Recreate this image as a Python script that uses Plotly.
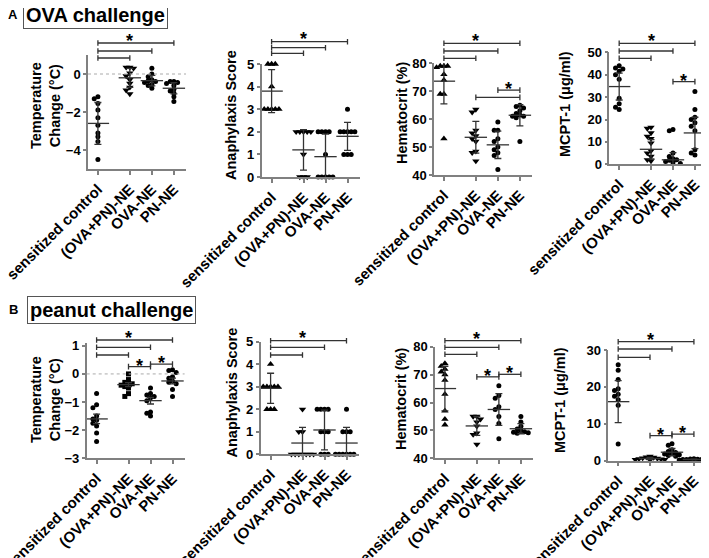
import numpy as np
import plotly.graph_objects as go

W, H = 709, 558
OFF = 8  # page body margin; the figure is drawn starting 8px in
FW, FH = W - OFF, H - OFF
FONT = "Liberation Sans, Arial, sans-serif"

groups = ["sensitized control", "(OVA+PN)-NE", "OVA-NE", "PN-NE"]

# ---------------- OVA challenge ----------------
ova_temp_points = [
    [-1.2, -1.3, -1.55, -1.9, -2.3, -2.7, -3.1, -3.3, -3.55, -4.5],
    [0.35, 0.35, 0.3, 0.05, -0.1, -0.3, -0.5, -0.7, -0.85, -1.05],
    [0.3, 0.0, -0.15, -0.3, -0.35, -0.4, -0.45, -0.55, -0.6, -0.75],
    [-0.4, -0.4, -0.45, -0.5, -0.6, -0.8, -0.9, -1.0, -1.2, -1.45],
]
ova_temp_mean = [-2.6, -0.2, -0.35, -0.75]
ova_temp_sd = [1.1, 0.5, 0.28, 0.3]

ova_score_points = [
    [5, 5, 5, 4, 3, 3, 3, 3, 3],
    [2, 2, 2, 2, 2, 1, 0, 0, 0],
    [2, 2, 2, 2, 1, 0, 0, 0, 0, 0],
    [3, 2, 2, 2, 2, 2, 1, 1, 1],
]
ova_score_mean = [3.8, 1.2, 0.9, 1.8]
ova_score_sd = [0.95, 0.9, 1.0, 0.62]

ova_hct_points = [
    [79, 79, 79, 78.5, 76, 74, 69, 69, 53],
    [63.5, 62.5, 56, 55, 54, 53, 52, 48.5, 48, 45],
    [59, 56, 56, 53, 52, 50, 49, 48, 47, 42],
    [65, 64.5, 64, 63, 62, 61.5, 61, 61, 60.5, 52],
]
ova_hct_mean = [73.6, 53.5, 50.8, 61.4]
ova_hct_sd = [8.1, 5.7, 4.9, 3.8]

ova_mcpt_points = [
    [44, 43, 42.5, 41.5, 40, 38, 29.5, 27, 25.5, 24.5],
    [16.5, 16, 14, 12.5, 11.5, 9.5, 6, 5, 3.5, 2, 1.5],
    [15.5, 15, 5, 3.5, 2.5, 2, 1.8, 1.2, 0.8, 0.4],
    [32.5, 24.5, 21, 20, 18.5, 17, 15, 6.5, 5, 4.2],
]
ova_mcpt_mean = [34.7, 6.7, 2.0, 14.0]
ova_mcpt_sd = [6.0, 4.3, 3.2, 7.0]

# ---------------- peanut challenge ----------------
pn_temp_points = [
    [-0.7, -1.1, -1.2, -1.5, -1.6, -1.65, -1.75, -1.85, -2.1, -2.4],
    [0.0, -0.2, -0.3, -0.35, -0.35, -0.4, -0.45, -0.5, -0.7, -0.8],
    [-0.5, -0.7, -0.75, -0.8, -0.85, -0.95, -1.35, -1.4, -1.5],
    [0.15, 0.12, 0.05, -0.1, -0.15, -0.25, -0.3, -0.35, -0.55, -0.8],
]
pn_temp_mean = [-1.6, -0.38, -0.95, -0.25]
pn_temp_sd = [0.17, 0.07, 0.12, 0.1]

pn_score_points = [
    [4, 3, 3, 3, 3, 3, 3, 2, 2, 2],
    [2, 1, 1, 0, 0, 0, 0, 0, 0, 0],
    [2, 2, 2, 2, 1, 1, 1, 0, 0, 0],
    [2, 1, 1, 1, 0, 0, 0, 0, 0, 0],
]
pn_score_mean = [2.93, 0.5, 1.08, 0.5]
pn_score_sd = [0.67, 0.7, 0.88, 0.7]

pn_hct_points = [
    [74, 73, 72, 71, 70, 68, 63, 57, 54, 52],
    [55, 55, 54, 53, 51.5, 49, 48.5, 45],
    [66, 62.5, 61.5, 58.5, 57.5, 55, 52.5, 47],
    [55, 53, 51.5, 50.5, 50, 49.5, 49.3, 49.2, 49],
]
pn_hct_mean = [65.0, 51.6, 57.5, 50.6]
pn_hct_sd = [8.0, 3.4, 5.7, 1.8]

pn_mcpt_points = [
    [26, 24.5, 22, 19.5, 19, 18, 17.5, 16.5, 15, 4.5],
    [1.2, 1.0, 0.9, 0.7, 0.6, 0.5, 0.4, 0.3, 0.3, 0.2],
    [4.6, 4.2, 3.0, 2.5, 2.2, 2.0, 1.8, 1.6, 1.4, 1.2],
    [0.5, 0.45, 0.4, 0.35, 0.3, 0.3, 0.25, 0.2],
]
pn_mcpt_mean = [16.0, 0.6, 2.3, 0.35]
pn_mcpt_sd = [5.7, 0.3, 1.0, 0.1]

xpos = [0, 1.45, 2.45, 3.45]
XR = [-0.45, 4.0]

TRI = ["triangle-up", "triangle-down", "circle", "circle"]
DOT = ["circle", "triangle-down", "circle", "circle"]

panels = [
    dict(pts=ova_temp_points, mean=ova_temp_mean, sd=ova_temp_sd, sym=DOT,
         xd=(88, 186), yd=(55, 169), yr=[-5, 1], tv=[-4, -2, 0],
         title="Temperature<br>Change (°C)", tpos=(45, 106),
         br=[43, 51, 58], star=37, inner=[], zero=True),
    dict(pts=ova_score_points, mean=ova_score_mean, sd=ova_score_sd, sym=TRI,
         xd=(261.7, 359.6), yd=(64, 177), yr=[0, 5], tv=[0, 1, 2, 3, 4, 5],
         title="Anaphylaxis Score", tpos=(231, 115),
         br=[41.7, 47.7, 53.3], star=35, inner=[], zero=False),
    dict(pts=ova_hct_points, mean=ova_hct_mean, sd=ova_hct_sd, sym=TRI,
         xd=(434, 532), yd=(63.3, 175), yr=[40, 80], tv=[40, 50, 60, 70, 80],
         title="Hematocrit (%)", tpos=(402, 113),
         br=[43.3, 51, 58.3], star=37,
         inner=[(1, 3, 67.8, False), (2, 3, 70.4, True)], zero=False),
    dict(pts=ova_mcpt_points, mean=ova_mcpt_mean, sd=ova_mcpt_sd, sym=DOT,
         xd=(609.3, 707), yd=(52.3, 164.3), yr=[0, 50], tv=[0, 10, 20, 30, 40, 50],
         title="MCPT-1 (μg/ml)", tpos=(565, 104),
         br=[43.3, 51, 58.3], star=37,
         inner=[(2, 3, 36.9, True)], zero=False),
    dict(pts=pn_temp_points, mean=pn_temp_mean, sd=pn_temp_sd,
         sym=["circle", "square", "circle", "circle"],
         xd=(86.7, 184.6), yd=(343, 458.3), yr=[-3, 1.1], tv=[-3, -2, -1, 0, 1],
         title="Temperature<br>Change (°C)", tpos=(45, 400),
         br=[340, 347.3, 355], star=334,
         inner=[(1, 2, 0.26, True), (2, 3, 0.35, True)], zero=True),
    dict(pts=pn_score_points, mean=pn_score_mean, sd=pn_score_sd, sym=TRI,
         xd=(260.7, 358.6), yd=(341.7, 454.3), yr=[0, 5], tv=[0, 1, 2, 3, 4, 5],
         title="Anaphylaxis Score", tpos=(231, 392.5),
         br=[340.7, 347.3, 355], star=334, inner=[], zero=False),
    dict(pts=pn_hct_points, mean=pn_hct_mean, sd=pn_hct_sd, sym=TRI,
         xd=(435, 533), yd=(346.7, 458.3), yr=[40, 80], tv=[40, 50, 60, 70, 80],
         title="Hematocrit (%)", tpos=(401, 399),
         br=[340.7, 347.3, 354.3], star=335,
         inner=[(1, 2, 69.2, True), (2, 3, 70.1, True)], zero=False),
    dict(pts=pn_mcpt_points, mean=pn_mcpt_mean, sd=pn_mcpt_sd, sym=DOT,
         xd=(608.3, 706), yd=(350, 460.7), yr=[0, 30], tv=[0, 10, 20, 30],
         title="MCPT-1 (μg/ml)", tpos=(560, 400),
         br=[341.7, 349, 357.3], star=336,
         inner=[(1, 2, 6.8, True), (2, 3, 7.2, True)], zero=False),
]


def px(p):
    return (p - OFF) / FW


def py(p):
    return 1 - (p - OFF) / FH


def swarm(vals, ppu_x, ppu_y, size=4.6):
    vals = np.asarray(vals, dtype=float)
    order = np.argsort(-vals)
    placed = []
    offs = np.zeros(len(vals))
    for i in order:
        yp = vals[i] * ppu_y
        for c in [0, -1, 1, -2, 2, -3, 3, -4, 4, -5, 5]:
            xp = c * size * 0.8
            if all((xp - a) ** 2 + (yp - b) ** 2 >= (size * 0.8) ** 2 for a, b in placed):
                break
        placed.append((xp, yp))
        offs[i] = xp / ppu_x
    return offs


fig = go.Figure()
shapes, annos = [], []
LC = "#333333"
AX = "#808080"

for k, p in enumerate(panels, start=1):
    sfx = "" if k == 1 else str(k)
    xr, yr = "x" + sfx, "y" + sfx
    ppu_x = (p["xd"][1] - p["xd"][0]) / (XR[1] - XR[0])
    ppu_y = (p["yd"][1] - p["yd"][0]) / (p["yr"][1] - p["yr"][0])

    def v2px(v, p=p, ppu_y=ppu_y):
        return p["yd"][1] - (v - p["yr"][0]) * ppu_y

    for g in range(4):
        vals = p["pts"][g]
        offs = swarm(vals, ppu_x, ppu_y)
        sym = p["sym"][g]
        fig.add_trace(go.Scatter(
            x=[xpos[g] + o for o in offs], y=vals, mode="markers",
            marker=dict(symbol=sym, size=6.5 if "triangle" in sym else 5, color="black"),
            xaxis=xr, yaxis=yr, cliponaxis=False, showlegend=False, hoverinfo="y"))
        fig.add_trace(go.Scatter(
            x=[xpos[g]], y=[p["mean"][g]], mode="markers",
            marker=dict(symbol="line-ew", size=16, line=dict(width=1.3, color=LC)),
            error_y=dict(type="data", array=[p["sd"][g]], color=LC, thickness=1.3, width=3.5),
            xaxis=xr, yaxis=yr, cliponaxis=False, showlegend=False, hoverinfo="y"))

    def bracket(i, j, ypx):
        shapes.append(dict(type="line", xref=xr, yref="paper", x0=xpos[i], x1=xpos[j],
                           y0=py(ypx), y1=py(ypx), line=dict(color=LC, width=1.3)))
        for xx in (xpos[i], xpos[j]):
            shapes.append(dict(type="line", xref=xr, yref="paper", x0=xx, x1=xx,
                               y0=py(ypx - 2.8), y1=py(ypx + 2.8), line=dict(color=LC, width=1.3)))

    def star(x, ypx):
        annos.append(dict(text="*", xref=xr, yref="paper", x=x, y=py(ypx + 4),
                          xanchor="center", yanchor="middle", showarrow=False,
                          font=dict(family=FONT, size=18, color="black", weight="bold")))

    for lvl, j in zip(p["br"], [3, 2, 1]):
        bracket(0, j, lvl)
    star(xpos[1], p["star"])
    for i, j, v, s in p["inner"]:
        ypx = v2px(v)
        bracket(i, j, ypx)
        if s:
            star((xpos[i] + xpos[j]) / 2, ypx - 5)

    if p["zero"]:
        shapes.append(dict(type="line", xref=xr + " domain", yref=yr, x0=0, x1=1, y0=0, y1=0,
                           line=dict(color="#aaaaaa", width=1, dash="dot")))

    # y-axis title as rotated text, placed where the reference has it
    annos.append(dict(text=p["title"], xref="paper", yref="paper",
                      x=px(p["tpos"][0]), y=py(p["tpos"][1]), textangle=-90,
                      xanchor="center", yanchor="middle", showarrow=False,
                      font=dict(family=FONT, size=14.5, color="black", weight="bold")))

    fig.update_layout(**{
        "xaxis" + sfx: dict(
            domain=[px(p["xd"][0]), px(p["xd"][1])], range=XR, anchor=yr,
            tickvals=xpos, ticktext=groups, tickangle=-45, ticklabeloverflow="allow",
            showline=True, linecolor=AX, linewidth=1.5, ticks="outside", ticklen=4,
            tickcolor=AX, tickwidth=1.5, showgrid=False, zeroline=False, automargin=False,
            tickfont=dict(family=FONT, size=15, color="black", weight="bold")),
        "yaxis" + sfx: dict(
            domain=[py(p["yd"][1]), py(p["yd"][0])], range=p["yr"], anchor=xr,
            tickvals=p["tv"], showline=True, linecolor=AX, linewidth=1.5, ticks="outside",
            ticklen=3, tickcolor=AX, tickwidth=1.5, showgrid=False, zeroline=False,
            automargin=False, ticklabeloverflow="allow",
            tickfont=dict(family=FONT, size=13, color="black", weight="bold")),
    })

# panel letters and boxed headers
for txt, x, y, size, box in [
    ("A", 13, 15, 13, False), ("B", 13, 309, 13, False),
    ("OVA challenge", 23, 1, 20, True), ("peanut challenge", 27, 296, 20, True),
]:
    a = dict(text=txt, xref="paper", yref="paper", x=px(x), y=py(y), showarrow=False,
             xanchor="center", yanchor="middle",
             font=dict(family=FONT, size=size, color="black", weight="bold"))
    if box:
        a.update(xanchor="left", yanchor="top", bordercolor="#555555", borderwidth=1, borderpad=2)
    annos.append(a)

fig.update_layout(
    width=FW, height=FH, margin=dict(l=0, r=0, t=0, b=0),
    paper_bgcolor="white", plot_bgcolor="white",
    shapes=shapes, annotations=annos, showlegend=False,
)

fig.write_html("out.html")
